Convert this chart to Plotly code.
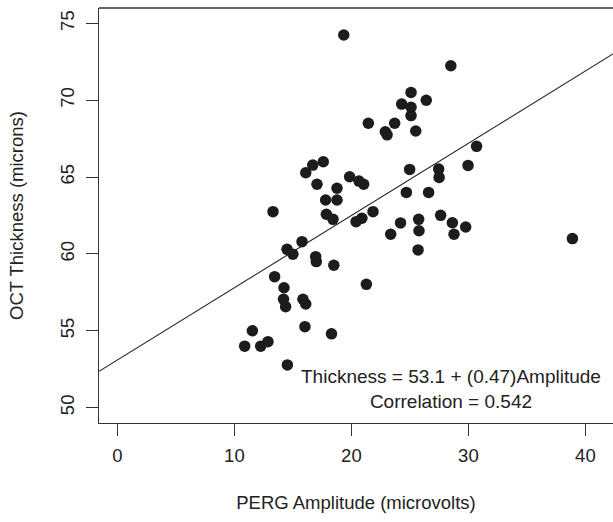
import plotly.graph_objects as go

# PERG amplitude (microvolts) and OCT thickness (microns)
perg_amplitude = [19.35, 28.5, 25.1, 26.4, 24.3, 25.1, 25.1, 25.5, 30.7, 24.98,
                  27.46, 27.5, 29.97, 24.7, 26.6, 21.45, 23.7, 22.9, 23.05, 17.6,
                  16.7, 16.1, 17.06, 18.77, 19.85, 20.65, 21.05, 17.8, 18.77, 13.3,
                  17.86, 18.43, 20.4, 20.9, 21.85, 23.36, 24.2, 15.78, 14.5, 15.0,
                  16.95, 17.0, 18.5, 13.44, 21.28, 14.24, 14.2, 14.38, 15.86, 16.1,
                  16.03, 18.3, 11.54, 10.88, 12.25, 12.87, 14.53, 25.75, 25.78, 25.7,
                  27.63, 28.63, 28.77, 29.77, 38.89]
oct_thickness = [74.24, 72.24, 70.51, 70.0, 69.75, 69.54, 69.0, 68.0, 67.0, 65.5,
                 65.52, 64.98, 65.76, 64.0, 64.0, 68.5, 68.5, 67.95, 67.75, 66.0,
                 65.78, 65.28, 64.53, 64.27, 65.02, 64.74, 64.53, 63.51, 63.51, 62.75,
                 62.58, 62.25, 62.1, 62.32, 62.75, 61.28, 62.02, 60.8, 60.3, 59.98,
                 59.82, 59.5, 59.26, 58.52, 58.02, 57.8, 57.05, 56.57, 57.05, 56.74,
                 55.27, 54.8, 55.0, 54.0, 54.0, 54.29, 52.78, 62.25, 61.51, 60.26,
                 62.51, 62.03, 61.28, 61.75, 61.0]

fit_intercept = 53.1
fit_slope = 0.47
correlation = 0.542

x_ticks = [0, 10, 20, 30, 40]
y_ticks = [50, 55, 60, 65, 70, 75]

x_range = [-1.57, 42.36]
y_range = [49.0, 76.0]

fit_x = x_range
fit_y = [fit_intercept + fit_slope * v for v in fit_x]

ink = "#222222"
font_family = "Liberation Sans, Arial, Helvetica, sans-serif"

fig = go.Figure()
fig.add_trace(go.Scatter(x=fit_x, y=fit_y, mode="lines",
                         line=dict(color=ink, width=1.1), showlegend=False,
                         hoverinfo="skip"))
fig.add_trace(go.Scatter(x=perg_amplitude, y=oct_thickness, mode="markers",
                         marker=dict(size=11.5, color="#1c1c1c", line=dict(width=0)),
                         showlegend=False))

fig.add_annotation(x=28.5, y=51.22, xref="x", yref="y",
                   text=f"Thickness = {fit_intercept} + ({fit_slope})Amplitude<br>Correlation = {correlation}",
                   showarrow=False, align="center", xanchor="center", yanchor="middle",
                   font=dict(size=19, color=ink, family=font_family))

# top border of the plotting box
fig.add_shape(type="line", xref="paper", yref="paper", x0=0, x1=1.05, y0=1, y1=1,
              line=dict(color="#333333", width=1.3))

fig.update_layout(
    width=613, height=522,
    margin=dict(l=99, r=0, t=8, b=99, autoexpand=False),
    paper_bgcolor="white", plot_bgcolor="white",
    font=dict(family=font_family, size=18.5, color=ink),
    xaxis=dict(range=x_range, tickvals=x_ticks, ticks="outside", ticklen=12,
               tickwidth=1.1, tickcolor="#333333", showline=True, linecolor="#333333",
               linewidth=1.3, mirror=False, showgrid=False, zeroline=False,
               automargin=False, ticklabelstandoff=4,
               tickfont=dict(size=18.5, color=ink),
               title=dict(text="PERG Amplitude (microvolts)", standoff=30,
                          font=dict(size=18.5, color=ink))),
    yaxis=dict(range=y_range, tickvals=y_ticks, ticks="outside", ticklen=12,
               tickwidth=1.1, tickcolor="#333333", showline=True, linecolor="#333333",
               linewidth=1.3, mirror=False, showgrid=False, zeroline=False,
               automargin=False, tickangle=-90, ticklabelstandoff=4,
               tickfont=dict(size=18.5, color=ink),
               title=dict(text="OCT Thickness (microns)", standoff=28,
                          font=dict(size=18.5, color=ink))),
)

fig.write_html("out.html", config={"displayModeBar": False},
               post_script="document.body.style.margin='0px';document.body.style.overflow='hidden';")
